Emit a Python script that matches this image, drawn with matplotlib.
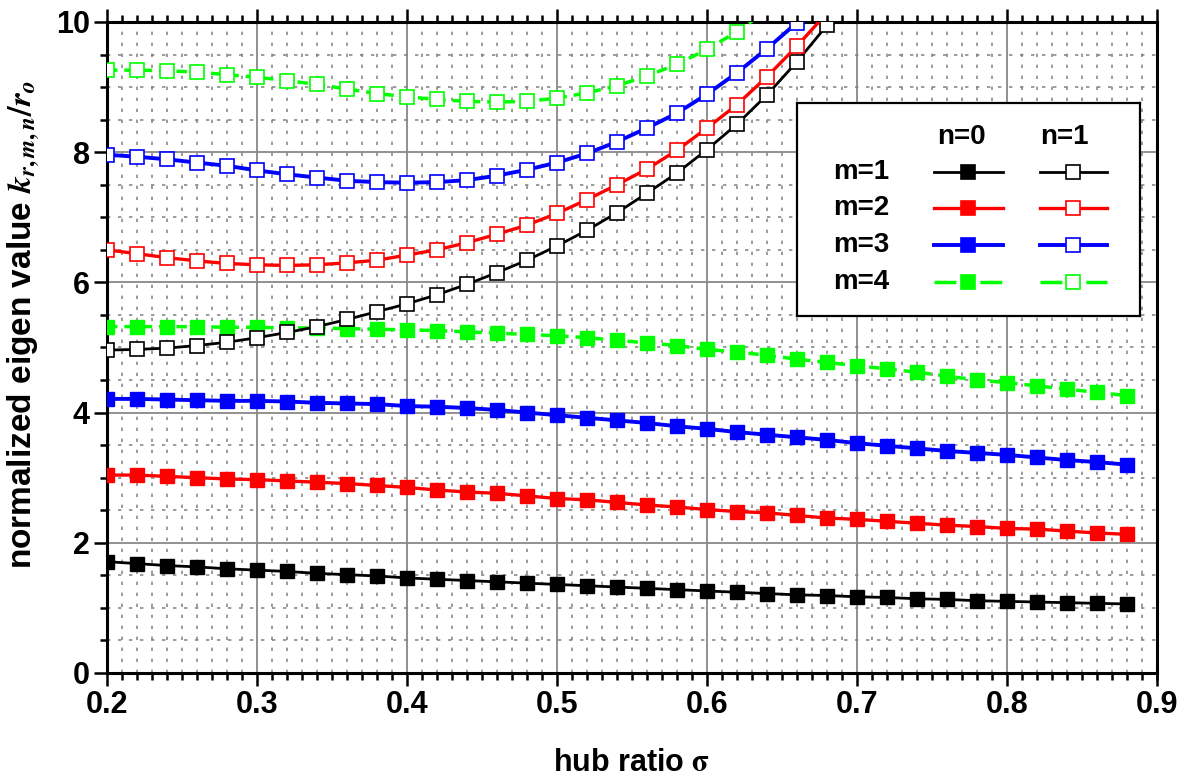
import matplotlib
matplotlib.use('Agg')
import matplotlib.pyplot as plt
from matplotlib.ticker import MultipleLocator

# hub ratio sigma
sigma = [0.20, 0.22, 0.24, 0.26, 0.28, 0.30, 0.32, 0.34, 0.36, 0.38,
         0.40, 0.42, 0.44, 0.46, 0.48, 0.50, 0.52, 0.54, 0.56, 0.58,
         0.60, 0.62, 0.64, 0.66, 0.68, 0.70, 0.72, 0.74, 0.76, 0.78,
         0.80, 0.82, 0.84, 0.86, 0.88]

# n=0 eigen values, m=1..4
k_m1_n0 = [1.71, 1.68, 1.65, 1.63, 1.60, 1.58, 1.56, 1.53, 1.51, 1.49,
           1.46, 1.44, 1.42, 1.40, 1.38, 1.36, 1.34, 1.32, 1.30, 1.28,
           1.26, 1.24, 1.22, 1.20, 1.19, 1.17, 1.16, 1.14, 1.13, 1.11,
           1.10, 1.09, 1.08, 1.07, 1.06]
k_m2_n0 = [3.04, 3.04, 3.02, 3.00, 2.98, 2.97, 2.95, 2.93, 2.91, 2.88,
           2.85, 2.81, 2.78, 2.76, 2.72, 2.68, 2.66, 2.62, 2.58, 2.55,
           2.51, 2.48, 2.46, 2.42, 2.38, 2.36, 2.33, 2.30, 2.27, 2.25,
           2.22, 2.21, 2.18, 2.15, 2.13]
k_m3_n0 = [4.21, 4.21, 4.20, 4.19, 4.18, 4.18, 4.17, 4.15, 4.14, 4.13,
           4.10, 4.09, 4.07, 4.04, 4.00, 3.96, 3.92, 3.88, 3.84, 3.79,
           3.75, 3.70, 3.66, 3.62, 3.58, 3.53, 3.49, 3.45, 3.41, 3.38,
           3.35, 3.31, 3.27, 3.24, 3.20]
k_m4_n0 = [5.32, 5.32, 5.32, 5.32, 5.31, 5.31, 5.30, 5.30, 5.29, 5.28,
           5.27, 5.26, 5.24, 5.22, 5.20, 5.18, 5.15, 5.11, 5.07, 5.03,
           4.97, 4.93, 4.88, 4.82, 4.77, 4.72, 4.67, 4.62, 4.56, 4.50,
           4.46, 4.41, 4.36, 4.31, 4.26]

# n=1 eigen values (the curves leave the plotted range past sigma ~0.63-0.68)
k_m1_n1 = [4.96, 4.97, 4.99, 5.03, 5.08, 5.15, 5.23, 5.32, 5.43, 5.55,
           5.67, 5.81, 5.97, 6.15, 6.34, 6.56, 6.80, 7.07, 7.37, 7.68,
           8.04, 8.43, 8.88, 9.39, 9.95]
k_m2_n1 = [6.50, 6.44, 6.38, 6.33, 6.29, 6.27, 6.26, 6.27, 6.30, 6.34,
           6.42, 6.50, 6.61, 6.74, 6.88, 7.06, 7.27, 7.50, 7.74, 8.03,
           8.37, 8.73, 9.16, 9.63, 10.14]
k_m3_n1 = [7.96, 7.93, 7.89, 7.84, 7.79, 7.72, 7.66, 7.61, 7.56, 7.54,
           7.53, 7.54, 7.57, 7.64, 7.73, 7.84, 7.98, 8.16, 8.37, 8.60,
           8.89, 9.22, 9.59, 9.99]
k_m4_n1 = [9.26, 9.26, 9.25, 9.23, 9.19, 9.15, 9.10, 9.04, 8.97, 8.90,
           8.85, 8.81, 8.78, 8.77, 8.78, 8.83, 8.91, 9.02, 9.17, 9.35,
           9.58, 9.85, 10.18]

modes = ['m=1', 'm=2', 'm=3', 'm=4']
colors = ['#000000', '#ff0000', '#0000ff', '#00ff00']
widths = [2.0, 2.4, 2.8, 2.5]
green_dash = (3.0, 2.0)

plt.rcParams['font.family'] = ['Liberation Sans', 'DejaVu Sans']
plt.rcParams['font.weight'] = 'bold'
plt.rcParams['mathtext.fontset'] = 'stix'

fig = plt.figure(figsize=(11.97, 7.84), dpi=100)
ax = fig.add_axes([0.0894, 0.1416, 0.8772, 0.8304])

n0_sets = [k_m1_n0, k_m2_n0, k_m3_n0, k_m4_n0]
n1_sets = [k_m1_n1, k_m2_n1, k_m3_n1, k_m4_n1]

for vals, c, lw, m in zip(n0_sets, colors, widths, modes):
    line, = ax.plot(sigma[:len(vals)], vals, '-', color=c, lw=lw, marker='s',
                    ms=10, mfc=c, mec=c, mew=1, zorder=3)
    if m == 'm=4':
        line.set_dashes(green_dash)

for vals, c, lw, m in zip(n1_sets, colors, widths, modes):
    line, = ax.plot(sigma[:len(vals)], vals, '-', color=c, lw=lw, marker='s',
                    ms=10, mfc='white', mec=c, mew=1.2, zorder=4)
    if m == 'm=4':
        line.set_dashes(green_dash)

ax.set_xlim(0.2, 0.9)
ax.set_ylim(0, 10)
ax.xaxis.set_major_locator(MultipleLocator(0.1))
ax.xaxis.set_minor_locator(MultipleLocator(0.01))
ax.yaxis.set_major_locator(MultipleLocator(2))
ax.yaxis.set_minor_locator(MultipleLocator(0.5))
ax.xaxis.set_major_formatter(plt.FuncFormatter(lambda v, p: '%.1f' % v))

ax.grid(which='major', color='#888888', lw=1.3, ls='-', zorder=0)
ax.grid(which='minor', color='#808080', lw=1.1, ls=(0, (2.2, 5)), zorder=0)
ax.set_axisbelow(True)

for side in ax.spines.values():
    side.set_linewidth(2.2)
ax.tick_params(which='both', direction='out', top=True, width=1.8)
ax.tick_params(which='major', length=9.5, labelsize=22, pad=3)
ax.tick_params(which='minor', length=5)
ax.tick_params(axis='y', which='both', right=True)
# short ticks crossing the right spine
for t in ax.yaxis.get_major_ticks() + ax.yaxis.get_minor_ticks():
    t.tick2line.set_markersize(5)
    t.tick2line.set_marker(3)
for lab in ax.get_xticklabels() + ax.get_yticklabels():
    lab.set_fontweight('bold')

ax.set_xlabel(r'hub ratio $\mathrm{\sigma}$', fontsize=22, fontweight='bold', labelpad=20)
ax.set_ylabel(r'normalized eigen value $k_{r,m,n}/r_o$', fontsize=24,
              fontweight='bold')
ax.yaxis.set_label_coords(-0.062, 0.535)

# legend table: rows are m, columns are n
leg = fig.add_axes([0.666, 0.597, 0.286, 0.272])
leg.set_xlim(0, 1)
leg.set_ylim(0, 1)
leg.set_xticks([])
leg.set_yticks([])
for side in leg.spines.values():
    side.set_linewidth(1.6)
leg.text(0.48, 0.84, 'n=0', ha='center', va='center', fontsize=20, fontweight='bold')
leg.text(0.78, 0.84, 'n=1', ha='center', va='center', fontsize=20, fontweight='bold')
row_y = [0.676, 0.507, 0.333, 0.16]
for m, c, lw, y in zip(modes, colors, widths, row_y):
    leg.text(0.105, y, m, ha='left', va='center', fontsize=20, fontweight='bold')
    for x0, x1, face in [(0.40, 0.60, c), (0.708, 0.906, 'white')]:
        seg, = leg.plot([x0, (x0 + x1) / 2, x1], [y, y, y], '-', color=c, lw=lw,
                        marker='s', ms=10, mfc=face, mec=c, mew=1.2, markevery=[1])
        if m == 'm=4':
            seg.set_dashes((6.3, 6.9))

fig.savefig('out.png', dpi=100)
